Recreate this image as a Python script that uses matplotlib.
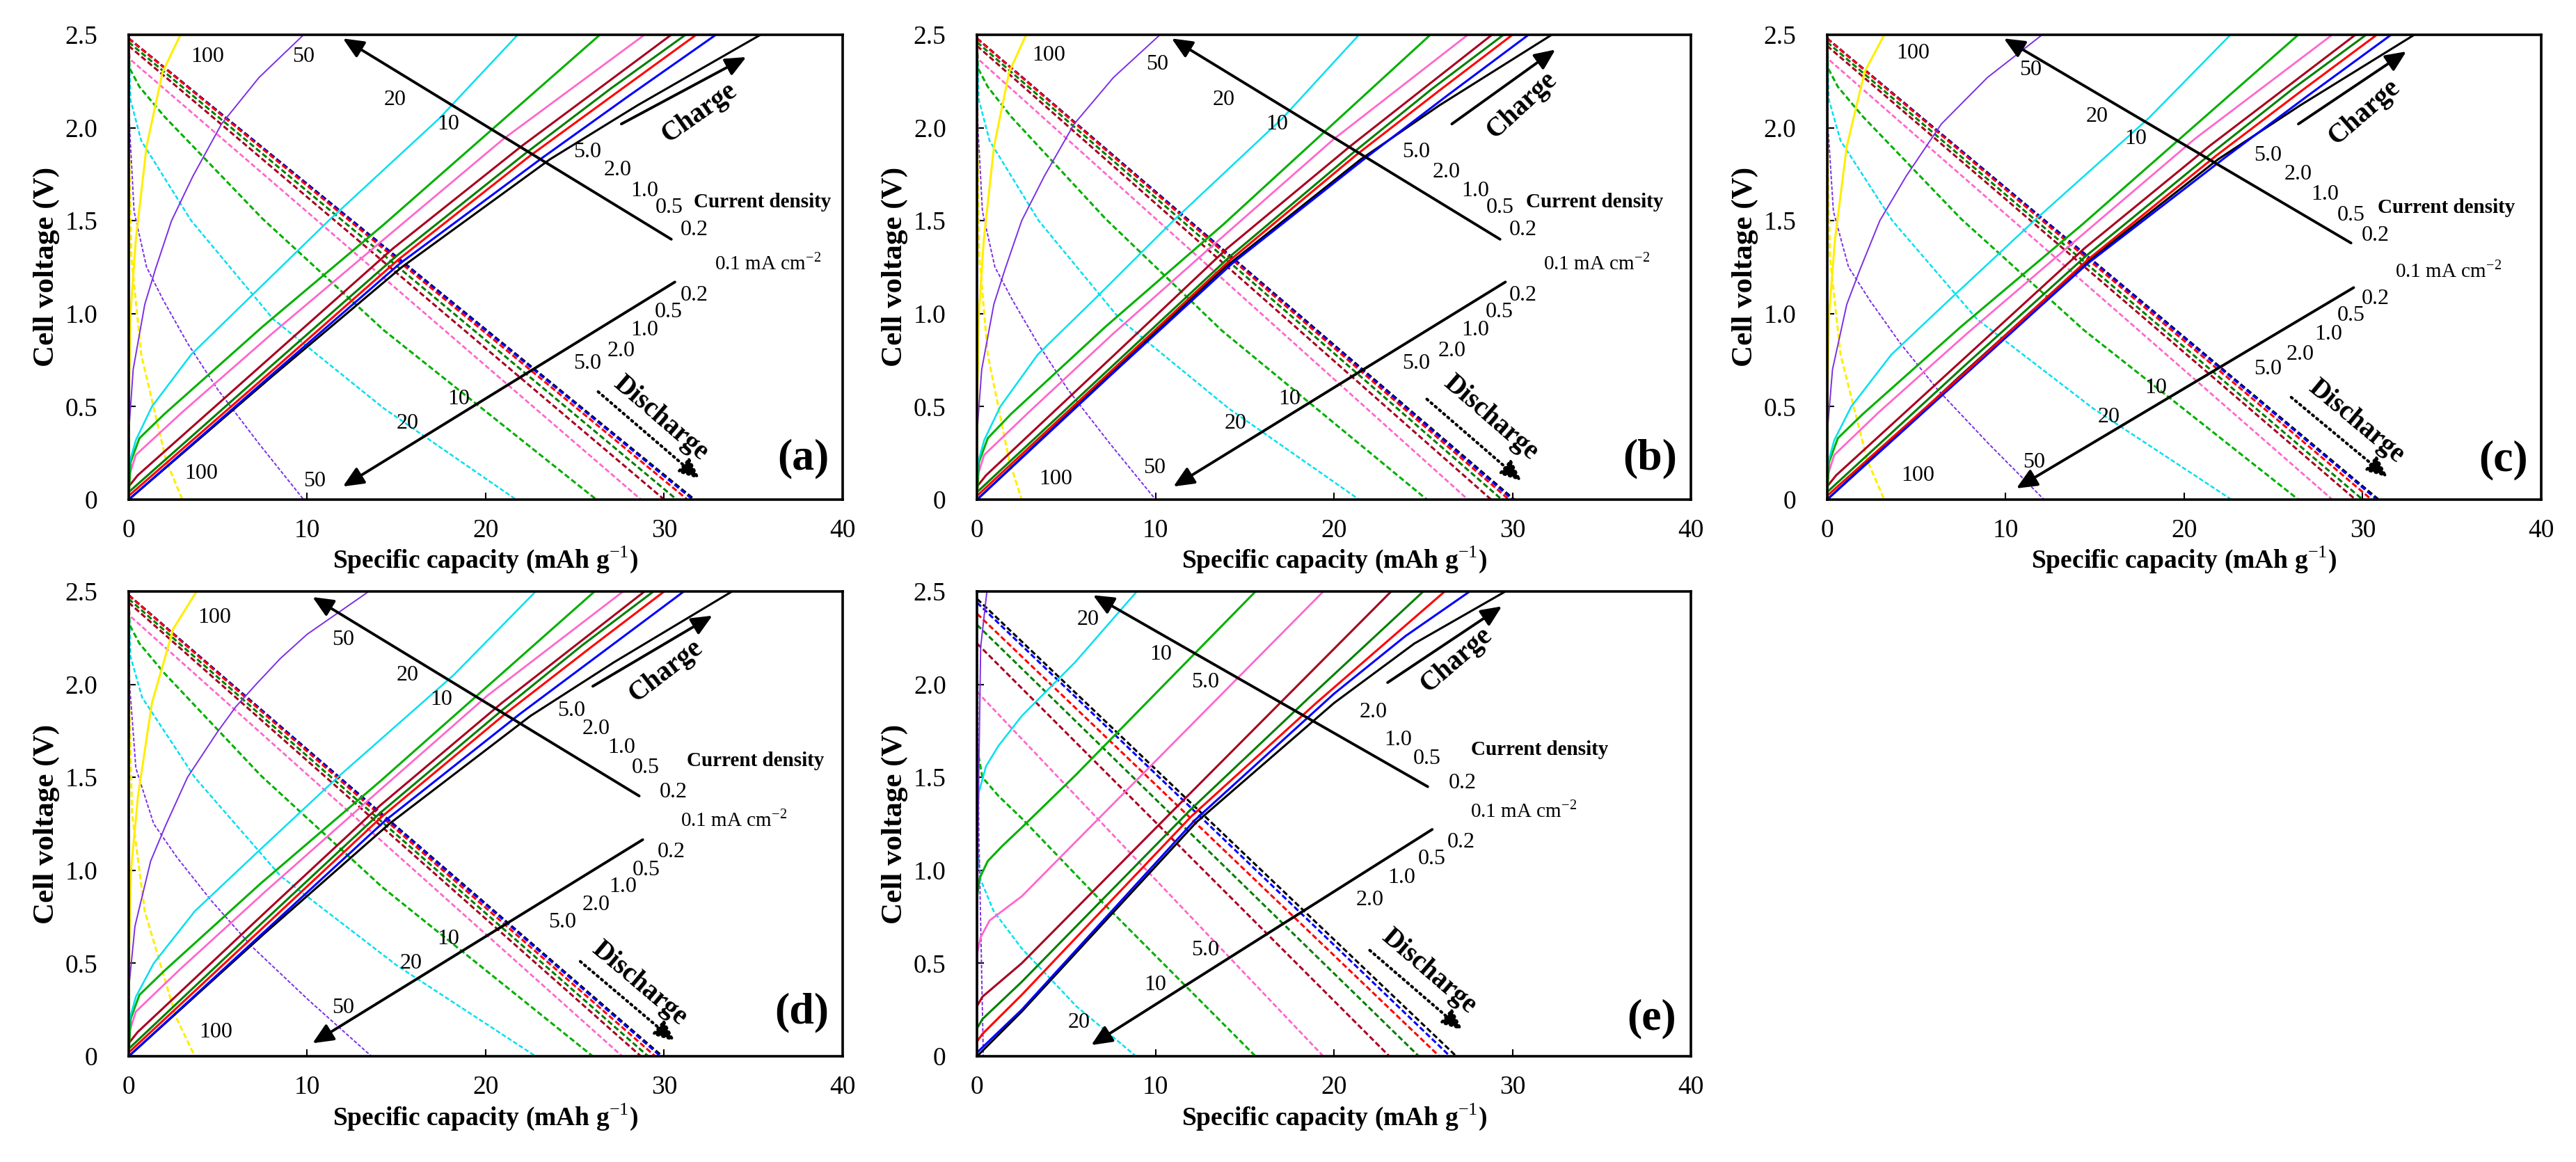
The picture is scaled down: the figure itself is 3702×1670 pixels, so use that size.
import math
import matplotlib
matplotlib.use("Agg")
import matplotlib.pyplot as plt

plt.rcParams['font.family'] = ['Liberation Serif', 'DejaVu Serif']
plt.rcParams['mathtext.fontset'] = 'custom'
plt.rcParams['mathtext.rm'] = 'Liberation Serif'
plt.rcParams['mathtext.bf'] = 'Liberation Serif:bold'

# current densities (mA cm-2), one colour each
densities = ['0.1', '0.2', '0.5', '1.0', '2.0', '5.0', '10', '20', '50', '100']
colours = ['#000000', '#0000ff', '#ff0000', '#008000', '#a8001f',
           '#ff66cc', '#00b000', '#00e0f0', '#7b2ee6', '#ffee00']

# (capacity mAh/g, voltage V), one list per current density
a_charge = [
    [(0, 0), (8, 0.66), (15.3, 1.25), (23.6, 1.83), (28.5, 2.12), (35.4, 2.5)],
    [(0, 0), (8, 0.67), (15.2, 1.27), (23.2, 1.84), (28, 2.17), (32.9, 2.5)],
    [(0, 0.02), (8, 0.69), (15.1, 1.29), (22.5, 1.85), (27.5, 2.2), (31.8, 2.5)],
    [(0, 0.04), (8, 0.72), (15, 1.31), (22.2, 1.86), (27, 2.21), (31.2, 2.5)],
    [(0, 0.07), (0.5, 0.13), (8, 0.77), (14.8, 1.35), (22, 1.9), (30.4, 2.5)],
    [(0, 0.12), (0.4, 0.24), (3, 0.47), (8, 0.89), (14.3, 1.4), (21, 1.94), (28.9, 2.5)],
    [(0, 0), (0.1, 0.2), (0.6, 0.33), (2, 0.46), (7.5, 0.93), (14.3, 1.48), (26.4, 2.5)],
    [(0, 0), (0.05, 0.2), (0.4, 0.32), (1.3, 0.5), (3.5, 0.78), (6.6, 1.07), (11.2, 1.5), (17.4, 2.05), (21.8, 2.5)],
    [(0, 0), (0.03, 0.4), (0.25, 0.7), (0.9, 1.05), (1.5, 1.24), (2.4, 1.5), (3.6, 1.74), (5.2, 2.02), (7.3, 2.27), (9.8, 2.5)],
    [(0, 0), (0.02, 0.6), (0.1, 1.0), (0.4, 1.4), (1.0, 1.9), (1.9, 2.3), (2.9, 2.5)],
]
a_discharge = [
    [(0, 2.48), (31.7, 0)],
    [(0, 2.48), (31.6, 0)],
    [(0, 2.48), (31.3, 0)],
    [(0, 2.46), (30.7, 0)],
    [(0, 2.44), (30.0, 0)],
    [(0, 2.48), (0.05, 2.37), (28.7, 0)],
    [(0, 2.45), (0.05, 2.32), (0.6, 2.22), (2, 2.06), (7.5, 1.51), (14.3, 0.91), (26.2, 0)],
    [(0, 2.45), (0.1, 2.15), (0.7, 1.93), (3.5, 1.5), (8.1, 0.97), (14.3, 0.49), (21.7, 0)],
    [(0, 2.45), (0.05, 2.0), (0.3, 1.55), (1, 1.25), (1.95, 1.07), (3.3, 0.84), (5, 0.59), (7.3, 0.3), (9.8, 0)],
    [(0, 2.45), (0.02, 1.9), (0.15, 1.3), (0.7, 0.78), (2.1, 0.21), (3.0, 0)],
]

b_charge = [
    [(0, 0), (7.3, 0.66), (13.9, 1.25), (21.5, 1.83), (25.9, 2.12), (32.2, 2.5)],
    [(0, 0), (7.5, 0.67), (14.3, 1.27), (21.8, 1.84), (26.3, 2.17), (30.9, 2.5)],
    [(0, 0.02), (7.5, 0.69), (14.2, 1.29), (21.2, 1.85), (25.9, 2.2), (30.0, 2.5)],
    [(0, 0.04), (7.6, 0.72), (14.2, 1.31), (21.0, 1.86), (25.5, 2.21), (29.5, 2.5)],
    [(0, 0.07), (0.5, 0.13), (7.6, 0.77), (14.0, 1.35), (20.9, 1.9), (28.85, 2.5)],
    [(0, 0.12), (0.4, 0.24), (2.9, 0.47), (7.6, 0.89), (13.6, 1.4), (20, 1.94), (27.5, 2.5)],
    [(0, 0), (0.1, 0.2), (0.6, 0.33), (1.9, 0.46), (7.2, 0.93), (13.8, 1.48), (25.4, 2.5)],
    [(0, 0), (0.05, 0.2), (0.4, 0.32), (1.3, 0.5), (3.4, 0.78), (6.5, 1.07), (11.0, 1.5), (17.1, 2.05), (21.4, 2.5)],
    [(0, 0), (0.03, 0.4), (0.26, 0.7), (0.94, 1.05), (1.57, 1.24), (2.5, 1.5), (3.77, 1.74), (5.44, 2.02), (7.64, 2.27), (10.25, 2.5)],
    [(0, 0), (0.02, 0.6), (0.1, 1.0), (0.38, 1.4), (0.95, 1.9), (1.8, 2.3), (2.75, 2.5)],
]
b_discharge = [
    [(0, 2.48), (30.1, 0)],
    [(0, 2.48), (30.0, 0)],
    [(0, 2.48), (29.8, 0)],
    [(0, 2.46), (29.4, 0)],
    [(0, 2.44), (28.8, 0)],
    [(0, 2.48), (0.05, 2.37), (27.5, 0)],
    [(0, 2.45), (0.05, 2.32), (0.6, 2.22), (1.9, 2.06), (7.2, 1.51), (13.7, 0.91), (25.2, 0)],
    [(0, 2.45), (0.1, 2.15), (0.7, 1.93), (3.45, 1.5), (8.0, 0.97), (14.1, 0.49), (21.4, 0)],
    [(0, 2.45), (0.05, 2.0), (0.3, 1.55), (1, 1.25), (2.0, 1.07), (3.4, 0.84), (5.1, 0.59), (7.45, 0.3), (10.0, 0)],
    [(0, 2.45), (0.02, 1.9), (0.13, 1.3), (0.6, 0.78), (1.8, 0.21), (2.5, 0)],
]

c_charge = [
    [(0, 0), (7.4, 0.66), (14.2, 1.25), (21.9, 1.83), (26.5, 2.12), (32.9, 2.5)],
    [(0, 0), (7.7, 0.67), (14.6, 1.27), (22.3, 1.84), (26.9, 2.17), (31.6, 2.5)],
    [(0, 0.02), (7.8, 0.69), (14.6, 1.29), (21.8, 1.85), (26.6, 2.2), (30.8, 2.5)],
    [(0, 0.04), (7.7, 0.72), (14.5, 1.31), (21.5, 1.86), (26.1, 2.21), (30.2, 2.5)],
    [(0, 0.07), (0.5, 0.13), (7.8, 0.77), (14.4, 1.35), (21.4, 1.9), (29.6, 2.5)],
    [(0, 0.12), (0.4, 0.24), (2.9, 0.47), (7.8, 0.89), (14.0, 1.4), (20.6, 1.94), (28.3, 2.5)],
    [(0, 0), (0.1, 0.2), (0.6, 0.33), (2, 0.46), (7.5, 0.93), (14.3, 1.48), (26.4, 2.5)],
    [(0, 0), (0.05, 0.2), (0.4, 0.32), (1.35, 0.5), (3.6, 0.78), (6.8, 1.07), (11.6, 1.5), (18.0, 2.05), (22.6, 2.5)],
    [(0, 0), (0.04, 0.4), (0.3, 0.7), (1.1, 1.05), (1.85, 1.24), (2.95, 1.5), (4.43, 1.74), (6.4, 2.02), (8.98, 2.27), (12.05, 2.5)],
    [(0, 0), (0.02, 0.6), (0.11, 1.0), (0.44, 1.4), (1.1, 1.9), (2.1, 2.3), (3.2, 2.5)],
]
c_discharge = [
    [(0, 2.48), (30.9, 0)],
    [(0, 2.48), (30.8, 0)],
    [(0, 2.48), (30.5, 0)],
    [(0, 2.46), (30.0, 0)],
    [(0, 2.44), (29.6, 0)],
    [(0, 2.48), (0.05, 2.37), (28.3, 0)],
    [(0, 2.45), (0.05, 2.32), (0.6, 2.22), (2, 2.06), (7.5, 1.51), (14.4, 0.91), (26.4, 0)],
    [(0, 2.45), (0.1, 2.15), (0.75, 1.93), (3.65, 1.5), (8.4, 0.97), (14.9, 0.49), (22.65, 0)],
    [(0, 2.45), (0.05, 2.0), (0.35, 1.55), (1.2, 1.25), (2.4, 1.07), (4.1, 0.84), (6.2, 0.59), (9.05, 0.3), (12.15, 0)],
    [(0, 2.45), (0.02, 1.9), (0.16, 1.3), (0.75, 0.78), (2.25, 0.21), (3.2, 0)],
]

d_charge = [
    [(0, 0), (7.6, 0.66), (14.6, 1.25), (22.5, 1.83), (27.2, 2.12), (33.8, 2.5)],
    [(0, 0), (7.6, 0.67), (14.4, 1.27), (21.9, 1.84), (26.5, 2.17), (31.1, 2.5)],
    [(0, 0.02), (7.5, 0.69), (14.2, 1.29), (21.2, 1.85), (25.9, 2.2), (30.0, 2.5)],
    [(0, 0.04), (7.5, 0.72), (14.1, 1.31), (20.9, 1.86), (25.4, 2.21), (29.4, 2.5)],
    [(0, 0.07), (0.5, 0.13), (7.6, 0.77), (14.1, 1.35), (20.9, 1.9), (28.9, 2.5)],
    [(0, 0.12), (0.4, 0.24), (2.9, 0.47), (7.7, 0.89), (13.7, 1.4), (20.1, 1.94), (27.7, 2.5)],
    [(0, 0), (0.1, 0.2), (0.6, 0.33), (2, 0.46), (7.4, 0.93), (14.1, 1.48), (26.1, 2.5)],
    [(0, 0), (0.05, 0.2), (0.4, 0.32), (1.4, 0.5), (3.7, 0.78), (6.9, 1.07), (11.7, 1.5), (18.2, 2.05), (22.8, 2.5)],
    [(0, 0), (0.04, 0.4), (0.35, 0.7), (1.23, 1.05), (2.06, 1.24), (3.29, 1.5), (4.94, 1.74), (6.0, 1.88), (7.13, 2.0), (8.5, 2.14), (10.0, 2.27), (13.45, 2.5)],
    [(0, 0), (0.03, 0.6), (0.13, 1.0), (0.52, 1.4), (1.3, 1.9), (2.5, 2.3), (3.8, 2.5)],
]
d_discharge = [
    [(0, 2.48), (29.9, 0)],
    [(0, 2.48), (29.8, 0)],
    [(0, 2.48), (29.5, 0)],
    [(0, 2.46), (29.1, 0)],
    [(0, 2.44), (28.7, 0)],
    [(0, 2.48), (0.05, 2.37), (27.65, 0)],
    [(0, 2.45), (0.05, 2.32), (0.6, 2.22), (2, 2.06), (7.4, 1.51), (14.2, 0.91), (26.0, 0)],
    [(0, 2.45), (0.1, 2.15), (0.75, 1.93), (3.7, 1.5), (8.5, 0.97), (15.0, 0.49), (22.8, 0)],
    [(0, 2.45), (0.05, 2.0), (0.4, 1.55), (1.4, 1.25), (2.7, 1.07), (4.6, 0.84), (6.9, 0.59), (10.1, 0.3), (13.6, 0)],
    [(0, 2.45), (0.03, 1.9), (0.19, 1.3), (0.9, 0.78), (2.65, 0.21), (3.7, 0)],
]

# panel (e) has no 100 mA cm-2 run
e_charge = [
    [(0, 0), (2.5, 0.24), (12.3, 1.26), (20, 1.9), (24.5, 2.22), (29.6, 2.5)],
    [(0, 0.02), (2.5, 0.25), (12.2, 1.27), (20, 1.95), (24, 2.26), (27.6, 2.5)],
    [(0, 0.08), (0.3, 0.12), (2.5, 0.33), (12, 1.29), (19, 1.9), (26.2, 2.5)],
    [(0, 0.15), (0.3, 0.2), (2.5, 0.4), (12, 1.33), (18.5, 1.92), (25.0, 2.5)],
    [(0, 0.27), (0.3, 0.32), (2.5, 0.5), (12, 1.42), (23.2, 2.5)],
    [(0, 0.55), (0.2, 0.64), (0.7, 0.73), (2.5, 0.86), (19.4, 2.5)],
    [(0, 0.86), (0.15, 0.96), (0.6, 1.05), (1.4, 1.13), (2.5, 1.23), (5.5, 1.51), (15.6, 2.5)],
    [(0, 1.25), (0.1, 1.42), (0.5, 1.56), (1.2, 1.67), (2.5, 1.83), (5.5, 2.12), (8.95, 2.5)],
    [(0, 0), (0.05, 1.2), (0.2, 2.2), (0.55, 2.5)],
]
e_discharge = [
    [(0, 2.46), (26.85, 0)],
    [(0, 2.44), (26.5, 0)],
    [(0, 2.38), (25.9, 0)],
    [(0, 2.32), (24.75, 0)],
    [(0, 2.22), (23.1, 0)],
    [(0, 1.96), (19.4, 0)],
    [(0, 1.66), (0.3, 1.5), (1.2, 1.4), (2.5, 1.28), (7, 0.83), (15.6, 0)],
    [(0, 1.15), (0.2, 0.95), (0.93, 0.78), (2.5, 0.58), (5.55, 0.27), (8.9, 0)],
    [(0, 2.45), (0.1, 1.2), (0.35, 0)],
]

# label text and positions
a_up = [('100', 4.4, 2.38), ('50', 9.8, 2.38), ('20', 14.9, 2.15), ('10', 17.9, 2.02), ('5.0', 25.7, 1.87),
        ('2.0', 27.4, 1.77), ('1.0', 28.9, 1.66), ('0.5', 30.3, 1.57), ('0.2', 31.7, 1.45)]
a_down = [('0.2', 31.7, 1.10), ('0.5', 30.25, 1.01), ('1.0', 28.9, 0.91), ('2.0', 27.6, 0.80), ('5.0', 25.7, 0.73),
          ('10', 18.5, 0.54), ('20', 15.6, 0.41), ('50', 10.4, 0.10), ('100', 4.05, 0.14)]
b_up = [('100', 4.0, 2.39), ('50', 10.1, 2.34), ('20', 13.8, 2.15), ('10', 16.8, 2.02), ('5.0', 24.6, 1.87),
        ('2.0', 26.3, 1.76), ('1.0', 27.9, 1.66), ('0.5', 29.3, 1.57), ('0.2', 30.6, 1.45)]
b_down = [('0.2', 30.6, 1.10), ('0.5', 29.25, 1.01), ('1.0', 27.9, 0.91), ('2.0', 26.6, 0.80), ('5.0', 24.6, 0.73),
          ('10', 17.5, 0.54), ('20', 14.5, 0.41), ('50', 9.95, 0.17), ('100', 4.4, 0.11)]
c_up = [('100', 4.8, 2.40), ('50', 11.4, 2.31), ('20', 15.1, 2.06), ('10', 17.3, 1.94), ('5.0', 24.7, 1.85),
        ('2.0', 26.4, 1.75), ('1.0', 27.9, 1.64), ('0.5', 29.35, 1.53), ('0.2', 30.7, 1.42)]
c_down = [('0.2', 30.7, 1.08), ('0.5', 29.35, 0.99), ('1.0', 28.1, 0.89), ('2.0', 26.5, 0.78), ('5.0', 24.7, 0.70),
          ('10', 18.4, 0.60), ('20', 15.8, 0.445), ('50', 11.6, 0.20), ('100', 5.1, 0.13)]
d_up = [('100', 4.8, 2.36), ('50', 12.0, 2.24), ('20', 15.6, 2.05), ('10', 17.5, 1.92), ('5.0', 24.8, 1.86),
        ('2.0', 26.2, 1.76), ('1.0', 27.6, 1.66), ('0.5', 28.95, 1.55), ('0.2', 30.5, 1.42)]
d_down = [('0.2', 30.4, 1.10), ('0.5', 29.0, 1.00), ('1.0', 27.7, 0.91), ('2.0', 26.2, 0.815), ('5.0', 24.3, 0.72),
          ('10', 17.9, 0.63), ('20', 15.8, 0.50), ('50', 12.0, 0.26), ('100', 4.9, 0.13)]
e_up = [('20', 6.2, 2.35), ('10', 10.3, 2.16), ('5.0', 12.8, 2.01), ('2.0', 22.2, 1.85),
        ('1.0', 23.6, 1.70), ('0.5', 25.2, 1.60), ('0.2', 27.2, 1.47)]
e_down = [('0.2', 27.1, 1.15), ('0.5', 25.5, 1.06), ('1.0', 23.8, 0.96), ('2.0', 22.0, 0.84),
          ('5.0', 12.8, 0.57), ('10', 10.0, 0.385), ('20', 5.7, 0.18)]

# arrows and other text positions per panel
a_lay = dict(cd=(35.5, 1.60), unit=(35.8, 1.27), tag=(37.8, 0.22),
             up=((30.4, 1.40), (12.0, 2.48)), dn=((30.6, 1.17), (12.0, 0.07)),
             chg=((27.6, 2.02), (34.6, 2.38)), dis=((26.3, 0.58), (32.0, 0.11)),
             chg_t=(31.95, 2.08), dis_t=(29.8, 0.436))
b_lay = dict(cd=(34.6, 1.60), unit=(34.7, 1.27), tag=(37.7, 0.22),
             up=((29.3, 1.40), (10.9, 2.48)), dn=((29.6, 1.17), (11.0, 0.07)),
             chg=((26.6, 2.02), (32.4, 2.42)), dis=((25.2, 0.54), (30.5, 0.10)),
             chg_t=(30.5, 2.12), dis_t=(28.8, 0.44))
c_lay = dict(cd=(34.7, 1.57), unit=(34.8, 1.23), tag=(37.9, 0.21),
             up=((29.35, 1.38), (9.9, 2.48)), dn=((29.5, 1.14), (10.6, 0.06)),
             chg=((26.4, 2.02), (32.45, 2.41)), dis=((26.0, 0.55), (31.4, 0.12)),
             chg_t=(30.1, 2.08), dis_t=(29.65, 0.42))
d_lay = dict(cd=(35.1, 1.59), unit=(33.9, 1.27), tag=(37.7, 0.235),
             up=((28.6, 1.40), (10.3, 2.47)), dn=((28.8, 1.165), (10.3, 0.07)),
             chg=((26.0, 1.99), (32.7, 2.37)), dis=((25.3, 0.51), (30.6, 0.08)),
             chg_t=(30.1, 2.07), dis_t=(28.6, 0.39))
e_lay = dict(cd=(31.5, 1.65), unit=(30.6, 1.32), tag=(37.8, 0.20),
             up=((25.25, 1.45), (6.5, 2.48)), dn=((25.5, 1.22), (6.4, 0.06)),
             chg=((23.0, 2.01), (29.4, 2.42)), dis=((22.0, 0.57), (27.2, 0.14)),
             chg_t=(26.85, 2.13), dis_t=(25.3, 0.456))

widths = [2.2, 2.2, 2.2, 2.2, 2.2, 2.0, 2.2, 1.8, 1.4, 2.2]

fig = plt.figure(figsize=(37.02, 16.70), dpi=100)
W, H = 0.27715, 0.4
boxes = [(0.04997, 0.5701), (0.3793, 0.5701), (0.7093, 0.5701), (0.04997, 0.0910), (0.3793, 0.0910)]
panels = [('(a)', a_charge, a_discharge, a_up, a_down, a_lay),
          ('(b)', b_charge, b_discharge, b_up, b_down, b_lay),
          ('(c)', c_charge, c_discharge, c_up, c_down, c_lay),
          ('(d)', d_charge, d_discharge, d_up, d_down, d_lay),
          ('(e)', e_charge, e_discharge, e_up, e_down, e_lay)]


def angle(ax, p0, p1):
    a = ax.transData.transform(p0)
    b = ax.transData.transform(p1)
    return math.degrees(math.atan2(b[1] - a[1], b[0] - a[0]))


head = '-|>,head_length=0.9,head_width=0.4'

for k, (tag, chg, dis, up, down, lay) in enumerate(panels):
    ax = fig.add_axes([boxes[k][0], boxes[k][1], W, H])
    ax.set_xlim(0, 40)
    ax.set_ylim(0, 2.5)
    for i in range(len(dis)):
        ax.plot([p[0] for p in dis[i]], [p[1] for p in dis[i]], color=colours[i],
                lw=widths[i], dashes=(2.6, 1.3))
    for i in range(len(chg)):
        ax.plot([p[0] for p in chg[i]], [p[1] for p in chg[i]], color=colours[i], lw=widths[i])

    ax.set_xticks([0, 10, 20, 30, 40])
    ax.set_xticklabels(['0', '10', '20', '30', '40'])
    ax.set_yticks([0, 0.5, 1.0, 1.5, 2.0, 2.5])
    ax.set_yticklabels(['0', '0.5', '1.0', '1.5', '2.0', '2.5'])
    ax.tick_params(direction='in', length=7, width=1.5, labelsize=27)
    ax.tick_params(axis='x', pad=20)
    ax.tick_params(axis='y', pad=32)
    for s in ax.spines.values():
        s.set_linewidth(2.6)

    ax.set_xlabel('Specific capacity (mAh g$^{-1}$)', fontsize=27, fontweight='bold', va='center')
    ax.set_ylabel('Cell voltage (V)', fontsize=31, fontweight='bold', va='center')
    ax.xaxis.set_label_coords(0.5, -0.13)
    ax.yaxis.set_label_coords(-0.115, 0.5)

    for t, x, y in up + down:
        ax.text(x, y, t, fontsize=23, ha='center', va='center')
    ax.text(*lay['cd'], 'Current density', fontsize=21, fontweight='bold', ha='center', va='center')
    ax.text(*lay['unit'], '0.1 mA cm$^{-2}$', fontsize=21, ha='center', va='center')
    ax.text(*lay['tag'], tag, fontsize=46, fontweight='bold', ha='center', va='center')

    for key in ('up', 'dn', 'chg'):
        tail, tip = lay[key]
        ax.annotate('', xy=tip, xytext=tail,
                    arrowprops=dict(arrowstyle=head, color='k', lw=2.8,
                                    mutation_scale=20, shrinkA=0, shrinkB=0))
    tail, tip = lay['dis']
    ax.annotate('', xy=tip, xytext=tail,
                arrowprops=dict(arrowstyle=head, color='k', lw=3.0, ls=(0, (0.5, 1.4)),
                                mutation_scale=20, shrinkA=0, shrinkB=0))

    ax.text(*lay['chg_t'], 'Charge', fontsize=28, fontweight='bold', ha='center', va='center',
            rotation=angle(ax, *lay['chg']) + 7, rotation_mode='anchor')
    ax.text(*lay['dis_t'], 'Discharge', fontsize=28, fontweight='bold', ha='center', va='center',
            rotation=angle(ax, *lay['dis']), rotation_mode='anchor')

fig.savefig('out.png', dpi=100)
